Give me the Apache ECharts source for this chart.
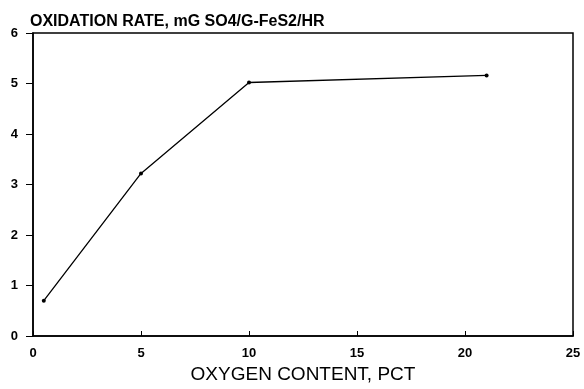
<!DOCTYPE html>
<html>
<head>
<meta charset="utf-8">
<script src="https://cdn.jsdelivr.net/npm/echarts@6/dist/echarts.min.js"></script>
<style>
  html, body { margin: 0; padding: 0; background: #fff; }
  #chart { width: 584px; height: 389px; }
</style>
</head>
<body>
<div id="chart"></div>
<script>
// oxygen content (pct) vs oxidation rate
var oxygenPct = [0.5, 5, 10, 21];
var oxidationRate = [0.70, 3.22, 5.02, 5.16];
var xTicks = [0, 5, 10, 15, 20, 25];
var yTicks = [0, 1, 2, 3, 4, 5, 6];

var font = 'Liberation Sans, Arial, sans-serif';
var myChart = echarts.init(document.getElementById('chart'));

var option = {
  backgroundColor: '#fff',
  animation: false,
  title: {
    text: 'OXIDATION RATE, mG SO4/G-FeS2/HR',
    left: 30,
    top: 14,
    padding: 0,
    textStyle: { fontFamily: font, fontSize: 16, fontWeight: 'bold', color: '#000' }
  },
  grid: {
    left: 33, right: 11, top: 33, bottom: 44,
    show: true, borderColor: '#000', borderWidth: 1.5
  },
  xAxis: {
    type: 'value',
    min: xTicks[0], max: xTicks[xTicks.length - 1], interval: 5,
    name: 'OXYGEN CONTENT, PCT',
    nameLocation: 'middle',
    nameGap: 29,
    nameTextStyle: { fontFamily: font, fontSize: 19, color: '#000' },
    axisLine: { lineStyle: { color: '#000', width: 1.5 } },
    axisTick: { inside: true, length: 5, lineStyle: { color: '#000' } },
    axisLabel: { margin: 11, fontFamily: font, fontSize: 13, fontWeight: 'bold', color: '#000' },
    splitLine: { show: false }
  },
  yAxis: {
    type: 'value',
    min: yTicks[0], max: yTicks[yTicks.length - 1], interval: 1,
    axisLine: { show: true, lineStyle: { color: '#000', width: 1.5 } },
    axisTick: { show: true, length: 7, lineStyle: { color: '#000' } },
    axisLabel: { margin: 15, fontFamily: font, fontSize: 13, fontWeight: 'bold', color: '#000' },
    splitLine: { show: false }
  },
  series: [{
    type: 'line',
    data: oxygenPct.map(function (x, i) { return [x, oxidationRate[i]]; }),
    symbol: 'circle',
    symbolSize: 4,
    itemStyle: { color: '#000' },
    lineStyle: { color: '#000', width: 1.3 }
  }]
};

myChart.setOption(option);
</script>
</body>
</html>
